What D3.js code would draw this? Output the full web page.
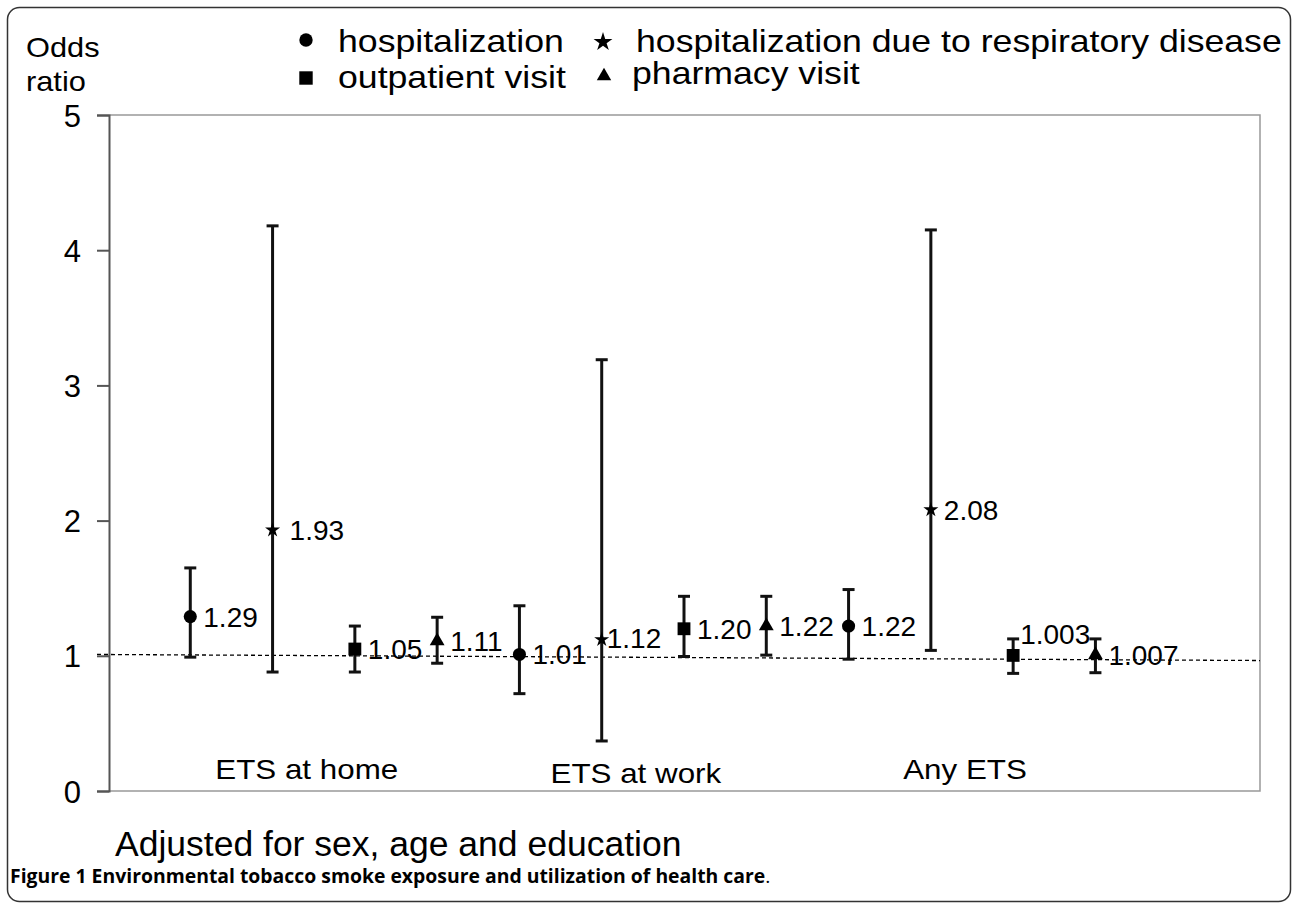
<!DOCTYPE html>
<html>
<head>
<meta charset="utf-8">
<script src="https://cdn.jsdelivr.net/npm/d3@7"></script>
<style>
  body { margin: 0; background: #fff; }
  text { font-family: "Liberation Sans", Arial, sans-serif; fill: #000; }
</style>
</head>
<body>
<div id="chart"></div>
<script>
// data
const categories = ["ETS at home", "ETS at work", "Any ETS"];
const series = ["hospitalization", "hospitalization due to respiratory disease", "outpatient visit", "pharmacy visit"];
const oddsRatio = [[1.29, 1.93, 1.05, 1.11], [1.01, 1.12, 1.20, 1.22], [1.22, 2.08, 1.003, 1.007]];
const ciLow = [[0.99, 0.88, 0.88, 0.945], [0.72, 0.37, 0.995, 1.005], [0.975, 1.04, 0.87, 0.875]];
const ciHigh = [[1.65, 4.18, 1.22, 1.285], [1.37, 3.19, 1.44, 1.44], [1.49, 4.15, 1.125, 1.125]];
const pointLabels = [["1.29", "1.93", "1.05", "1.11"], ["1.01", "1.12", "1.20", "1.22"], ["1.22", "2.08", "1.003", "1.007"]];
const yTicks = [0, 1, 2, 3, 4, 5];
const refLine = [1.01, 0.965]; // the dashed line at OR=1 (drawn slightly askew)

var width = 1295, height = 905;
var plot = { left: 109, right: 1260, top: 115, bottom: 791 };

var svg = d3.select("#chart").append("svg")
  .attr("width", width)
  .attr("height", height);

// outer frame
svg.append("rect")
  .attr("x", 7.5).attr("y", 7.5)
  .attr("width", 1283).attr("height", 894)
  .attr("rx", 12)
  .attr("fill", "none")
  .attr("stroke", "#333")
  .attr("stroke-width", 1.5);

var y = d3.scaleLinear().domain([0, 5]).range([plot.bottom, plot.top]);
// 12 points on a 14-slot axis (Excel style)
var x = d3.scaleLinear().domain([0, 14]).range([plot.left - 1, plot.right]);

// stretched text helper
function stext(sel, tx, ty, txt, size, sx, anchor) {
  return sel.append("text")
    .attr("transform", "translate(" + tx + "," + ty + ") scale(" + sx + ",1)")
    .attr("text-anchor", anchor || "start")
    .style("font-size", size + "px")
    .text(txt);
}

// plot frame (top, right, bottom)
svg.append("path")
  .attr("d", "M" + plot.left + "," + plot.top + "H" + plot.right + "V" + plot.bottom + "H" + plot.left)
  .attr("fill", "none")
  .attr("stroke", "#999")
  .attr("stroke-width", 1.5);

// y axis
var yAxis = d3.axisLeft(y).tickValues(yTicks).tickSize(12).tickPadding(16).tickFormat(d3.format("d"));
var ga = svg.append("g").attr("transform", "translate(" + plot.left + ",0)").call(yAxis);
ga.select(".domain").attr("stroke", "#555").attr("stroke-width", 2);
ga.selectAll(".tick line").attr("stroke", "#555").attr("stroke-width", 2);
ga.selectAll(".tick text")
  .style("font-size", "31px")
  .style("font-family", "'Liberation Sans', Arial, sans-serif")
  .attr("fill", "#000")
  .attr("dy", "0.36em");

// dashed reference line
svg.append("line")
  .attr("x1", plot.left - 12).attr("x2", plot.right)
  .attr("y1", y(refLine[0])).attr("y2", y(refLine[1]))
  .attr("stroke", "#000")
  .attr("stroke-width", 1.3)
  .attr("stroke-dasharray", "4,3");

// flatten points
var pts = [];
categories.forEach(function(c, gi) {
  series.forEach(function(s, si) {
    pts.push({
      pos: gi * 4 + si + 1, series: si,
      v: oddsRatio[gi][si], lo: ciLow[gi][si], hi: ciHigh[gi][si],
      label: pointLabels[gi][si]
    });
  });
});

var symbols = [d3.symbolCircle, d3.symbolStar, d3.symbolSquare, d3.symbolTriangle];
var symSize = [135, 70, 165, 95];

// error bars
var eb = svg.append("g").attr("stroke", "#111").attr("stroke-width", 3);
pts.forEach(function(d) {
  var cx = x(d.pos);
  eb.append("line").attr("x1", cx).attr("x2", cx).attr("y1", y(d.lo)).attr("y2", y(d.hi));
  eb.append("line").attr("x1", cx - 6).attr("x2", cx + 6).attr("y1", y(d.lo)).attr("y2", y(d.lo));
  eb.append("line").attr("x1", cx - 6).attr("x2", cx + 6).attr("y1", y(d.hi)).attr("y2", y(d.hi));
});

// markers
svg.append("g").selectAll("path")
  .data(pts)
  .enter()
  .append("path")
  .attr("transform", function(d) { return "translate(" + x(d.pos) + "," + y(d.v) + ")"; })
  .attr("d", function(d) { return d3.symbol().type(symbols[d.series]).size(symSize[d.series])(); })
  .attr("fill", "#000");

// value labels, a couple nudged like in the figure
var nudge = { "1.003": [-6, -21], "1.12": [-8, -2], "1.93": [4, 0] };
svg.append("g").selectAll("text")
  .data(pts)
  .enter()
  .append("text")
  .attr("x", function(d) { return x(d.pos) + 13 + (nudge[d.label] ? nudge[d.label][0] : 0); })
  .attr("y", function(d) { return y(d.v) + 10 + (nudge[d.label] ? nudge[d.label][1] : 0); })
  .style("font-size", "28px")
  .text(function(d) { return d.label; });

// category labels
var catDy = [779, 783, 779];
categories.forEach(function(c, gi) {
  stext(svg, x(gi * 4 + 2.5) - 7, catDy[gi], c, 28, 1.12, "middle");
});

// y title
stext(svg, 26, 57, "Odds", 27, 1.14);
stext(svg, 26, 91, "ratio", 27, 1.14);

// legend
var legend = [
  { s: 0, mx: 306, my: 40, tx: 338, ty: 52, size: 140 },
  { s: 1, mx: 603, my: 42, tx: 636, ty: 52, size: 110 },
  { s: 2, mx: 306, my: 78, tx: 338, ty: 88, size: 180 },
  { s: 3, mx: 604, my: 76, tx: 632, ty: 84, size: 90 }
];
legend.forEach(function(l) {
  svg.append("path")
    .attr("transform", "translate(" + l.mx + "," + l.my + ")")
    .attr("d", d3.symbol().type(symbols[l.s]).size(l.size)())
    .attr("fill", "#000");
  stext(svg, l.tx, l.ty, series[l.s], 31, 1.15);
});

// footnote and caption
svg.append("text")
  .attr("x", 115).attr("y", 856)
  .style("font-size", "35.5px")
  .text("Adjusted for sex, age and education");

var cap = svg.append("text")
  .attr("transform", "translate(10,883) scale(1.02,1)")
  .style("font-family", "'Open Sans', sans-serif")
  .style("font-size", "19px")
  .attr("fill", "#222");
cap.append("tspan").style("font-weight", "bold")
  .text("Figure 1 Environmental tobacco smoke exposure and utilization of health care");
cap.append("tspan").text(".");
</script>
</body>
</html>
